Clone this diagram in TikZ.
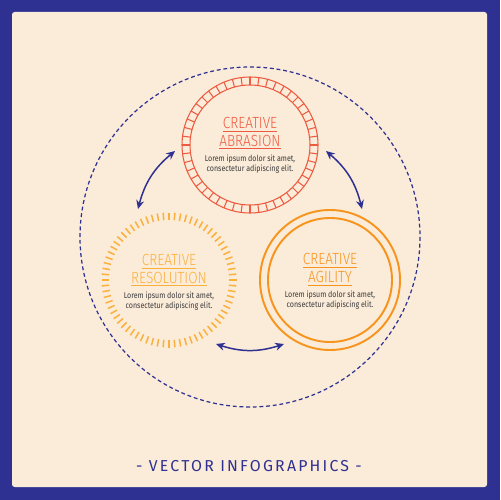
\documentclass[tikz,border=0pt]{standalone}
\usepackage{fontspec}
\setmainfont{Fira Sans}
\newfontfamily\condfont{Fira Sans Light}[FakeStretch=0.84]
\newfontfamily\bodyfont{Fira Sans}[FakeStretch=0.84]
\newfontfamily\footfont{Fira Sans}[LetterSpace=14]
\usetikzlibrary{arrows.meta}
\definecolor{navy}{HTML}{2E3192}
\definecolor{bg}{HTML}{FBEBD9}
\definecolor{abr}{HTML}{EE5A3F}
\definecolor{res}{HTML}{FBB03B}
\definecolor{agi}{HTML}{F7941D}
\definecolor{txt}{HTML}{3A3A3A}
\tikzset{
  titletext/.style={font=\condfont\fontsize{9.2}{10}\selectfont, align=center, inner sep=0pt},
  bodytext/.style={font=\bodyfont\fontsize{4.8}{5.7}\selectfont, align=center, text=txt, inner sep=0pt},
  link/.style={navy, line width=0.85pt, {Stealth[length=5pt,width=4.5pt]}-{Stealth[length=5pt,width=4.5pt]}},
  ladder/.style={abr, line width=0.6pt},
  tick/.style={res, line width=0.85pt},
  ring/.style={agi, line width=1.1pt},
}
\begin{document}
\begin{tikzpicture}[x=0.02cm,y=-0.02cm]
\fill[navy] (0,0) rectangle (500,500);
\fill[bg, rounded corners=1.5pt] (12,12) rectangle (487,487);
\useasboundingbox (0,0) rectangle (500,500);

% outer dashed circle
\coordinate (hub) at (250,237);
\draw[navy, line width=0.7pt, dash pattern=on 2.2pt off 1.6pt] (hub) circle[radius=170];

% Creative Abrasion
\coordinate (abrasion) at (250,145);
\draw[ladder] (abrasion) circle[radius=68] (abrasion) circle[radius=60];
\foreach \a in {0,7.5,...,352.5}
  \draw[ladder] (abrasion) ++(\a:60) -- ++(\a:8);
\node[titletext, text=abr] (abrtitle) at (250,133.5) {\underline{CREATIVE}\\\underline{ABRASION}};
\node[bodytext] (abrtext) at (250,164) {Lorem ipsum dolor sit amet,\\consectetur adipiscing elit.};

% Creative Resolution
\coordinate (resolution) at (169,280);
\foreach \a in {0,5,...,355}
  \draw[tick] (resolution) ++(\a:60) -- ++(\a:7.5);
\node[titletext, text=res] (restitle) at (169,270.5) {\underline{CREATIVE}\\\underline{RESOLUTION}};
\node[bodytext] (restext) at (169,301) {Lorem ipsum dolor sit amet,\\consectetur adipiscing elit.};

% Creative Agility
\coordinate (agility) at (330,280);
\draw[ring] (agility) circle[radius=70] (agility) circle[radius=62];
\node[titletext, text=agi] (agititle) at (330,270) {\underline{CREATIVE}\\\underline{AGILITY}};
\node[bodytext] (agitext) at (330,300.5) {Lorem ipsum dolor sit amet,\\consectetur adipiscing elit.};

% connectors
\coordinate (l1) at (175,151);
\coordinate (l2) at (138,209);
\coordinate (r1) at (326,151);
\coordinate (r2) at (362,209);
\coordinate (b1) at (216,344);
\coordinate (b2) at (284,344);
\draw[link] (l1) to[bend right=18] (l2);
\draw[link] (r1) to[bend left=18] (r2);
\draw[link] (b1) to[bend right=18] (b2);

% footer
\node[font=\footfont\fontsize{9}{10}\selectfont, text=navy, inner sep=0pt] (footer) at (249,466) {- VECTOR INFOGRAPHICS -};
\end{tikzpicture}
\end{document}
